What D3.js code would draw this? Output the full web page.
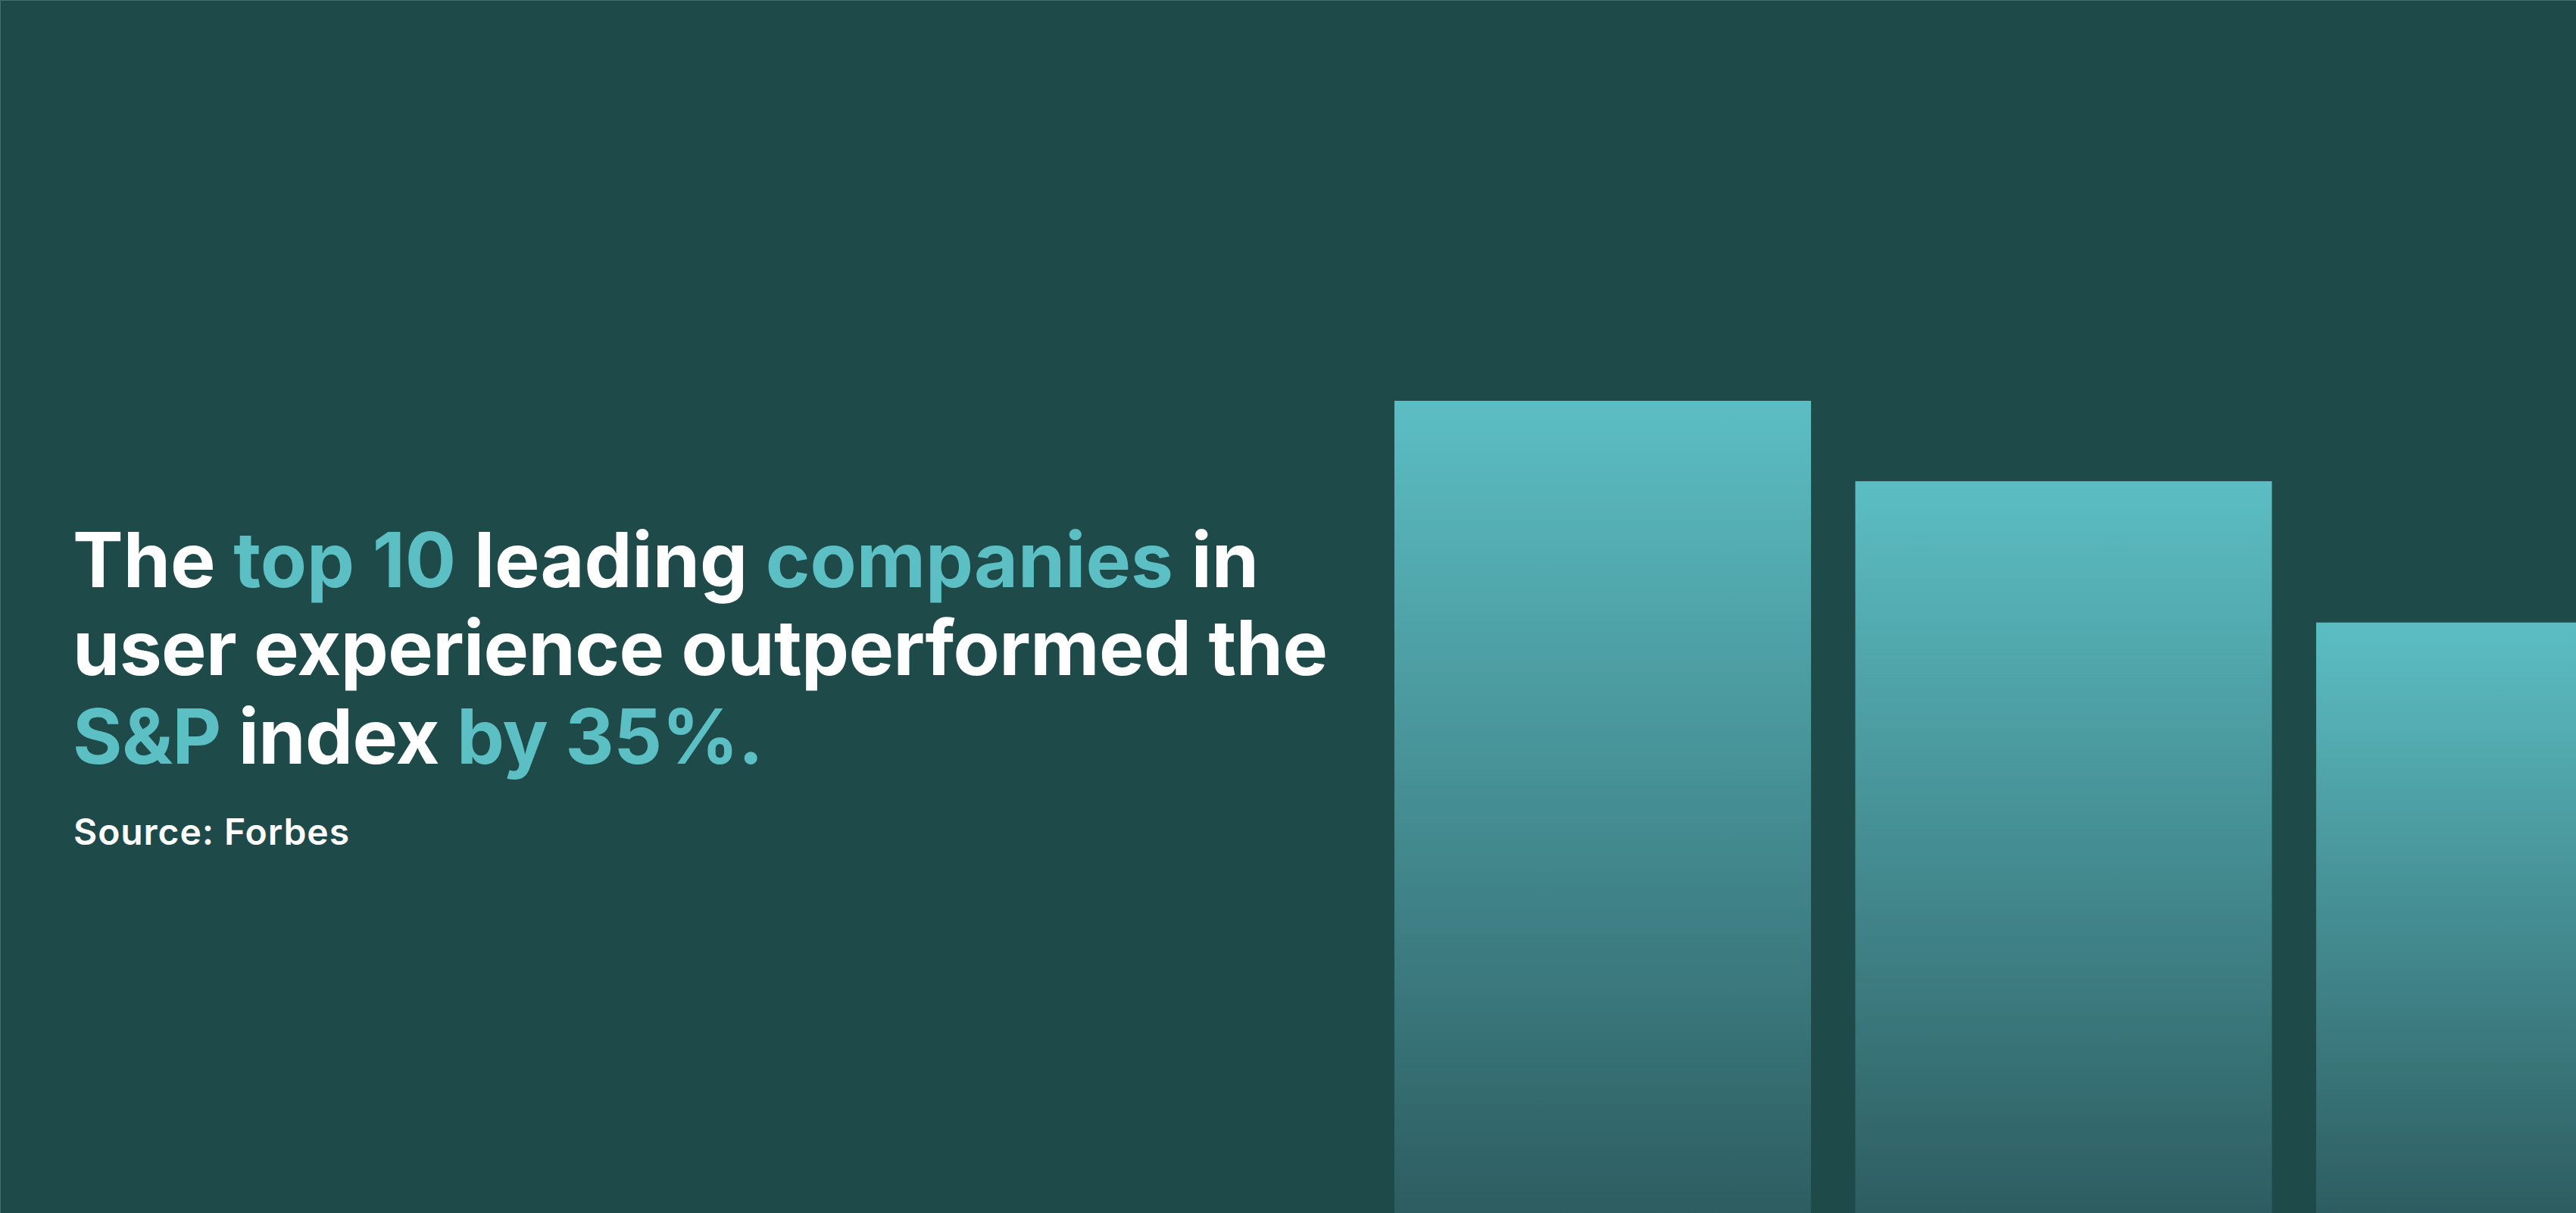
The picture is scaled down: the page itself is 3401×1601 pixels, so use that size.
<!DOCTYPE html>
<html>
<head>
<meta charset="utf-8">
<script src="https://cdn.jsdelivr.net/npm/d3@7"></script>
<style>
  html, body { margin: 0; padding: 0; background: #1f4a4a; overflow: hidden; }
  svg { display: block; }
</style>
</head>
<body>
<div id="chart"></div>
<script>
// chart data
var categories = ['A', 'B', 'C'];
var barValues = [100, 90.1, 72.7];

// headline: each line is a list of [text, highlighted]
var headlineLines = [
  [['The ', false], ['top 10', true], [' leading ', false], ['companies', true], [' in', false]],
  [['user experience outperformed the', false]],
  [['S&P', true], [' index ', false], ['by 35%.', true]]
];
var sourceText = 'Source: Forbes';

var width = 3401,
    height = 1601;

var bgColor = '#1f4a4a',
    accent = '#5bbfc4',
    white = '#ffffff';

var svg = d3.select('#chart').append('svg')
    .attr('width', width)
    .attr('height', height);

var defs = svg.append('defs');
var grad = defs.append('linearGradient')
    .attr('id', 'barGradient')
    .attr('x1', 0).attr('y1', 0)
    .attr('x2', 0).attr('y2', 1);
grad.append('stop').attr('offset', '0%').attr('stop-color', '#5bbec3');
grad.append('stop').attr('offset', '100%').attr('stop-color', '#2d5d61');

svg.append('rect')
    .attr('width', width)
    .attr('height', height)
    .attr('fill', bgColor);

// bars run off the right edge, like in the original
var x = d3.scaleBand()
    .domain(categories)
    .range([1841, 3608])
    .paddingInner(0.096)
    .paddingOuter(0);

var y = d3.scaleLinear()
    .domain([0, 100])
    .range([height, 529]);

svg.selectAll('.bar')
    .data(barValues)
  .enter().append('rect')
    .attr('class', 'bar')
    .attr('x', function(d, i) { return x(categories[i]); })
    .attr('y', function(d) { return y(d); })
    .attr('width', x.bandwidth())
    .attr('height', function(d) { return y(0) - y(d); })
    .attr('fill', 'url(#barGradient)');

// fit a text element to a given ink width using letter-spacing
function fitWidth(text, target, nChars) {
  var w = text.node().getBBox().width;
  text.attr('letter-spacing', (target - w) / (nChars - 1));
}

// headline text
var lineBaselines = [775, 891, 1008],
    lineWidths = [1566, 1657, 912];

var headline = svg.append('g').attr('class', 'headline');

headlineLines.forEach(function(segments, i) {
  var text = headline.append('text')
      .attr('x', 96)
      .attr('y', lineBaselines[i])
      .attr('font-family', 'Inter, "Noto Sans", sans-serif')
      .attr('font-weight', 700)
      .attr('font-size', 100);
  text.selectAll('tspan')
      .data(segments)
    .enter().append('tspan')
      .attr('fill', function(d) { return d[1] ? accent : white; })
      .text(function(d) { return d[0]; });

  var nChars = segments.map(function(d) { return d[0]; }).join('').length;
  fitWidth(text, lineWidths[i], nChars);
});

var source = svg.append('text')
    .attr('x', 97)
    .attr('y', 1115)
    .attr('font-family', 'Inter, "Noto Sans", sans-serif')
    .attr('font-weight', 600)
    .attr('font-size', 48)
    .attr('fill', white)
    .text(sourceText);
fitWidth(source, 364, sourceText.length);

// thin frame lines at the edges
svg.append('line')
    .attr('x1', 0).attr('y1', 0.5).attr('x2', width).attr('y2', 0.5)
    .attr('stroke', '#46706f').attr('stroke-width', 1);
svg.append('line')
    .attr('x1', 0.5).attr('y1', 0).attr('x2', 0.5).attr('y2', height)
    .attr('stroke', '#46706f').attr('stroke-width', 1);
</script>
</body>
</html>
